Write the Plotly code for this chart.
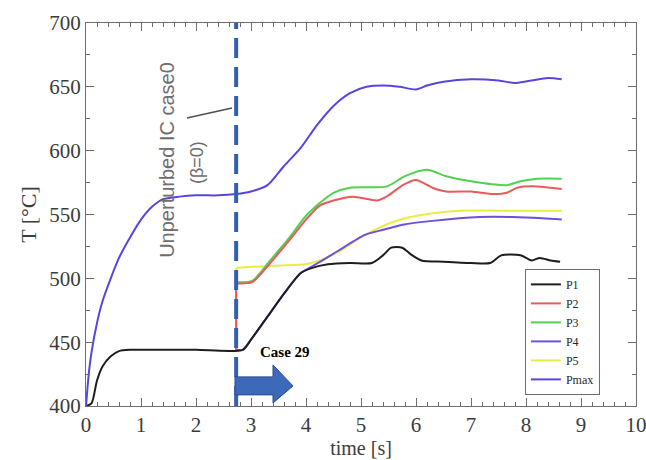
import plotly.graph_objects as go

# ---- data ----
t_pmax = [0, 0.05, 0.1, 0.2, 0.3, 0.45, 0.6, 0.8, 1.0, 1.2, 1.4, 1.7, 2.0, 2.4, 2.73,
          3.0, 3.3, 3.6, 3.9, 4.2, 4.5, 4.8, 5.1, 5.4, 5.7, 6.0, 6.2, 6.5, 7.0, 7.5,
          7.8, 8.1, 8.4, 8.65]
pmax = [400, 425, 442, 465, 482, 500, 516, 532, 546, 556, 562, 564, 565, 565, 566,
        568, 573, 588, 602, 620, 635, 645, 650, 651, 650, 648, 651, 654, 656, 655,
        653, 655, 657, 656]

t_p1 = [0, 0.1, 0.2, 0.3, 0.45, 0.6, 0.8, 1.2, 2.0, 2.85, 3.0, 3.3, 3.6, 3.9, 4.1,
        4.4, 4.8, 5.2, 5.4, 5.55, 5.75, 5.9, 6.1, 6.5, 7.0, 7.35, 7.55, 7.9, 8.1,
        8.25, 8.45, 8.62]
p1 = [400, 402, 420, 431, 439, 443, 444, 444, 444, 444, 452, 470, 488, 504, 508,
      511, 512, 512, 518, 524, 524, 519, 514, 513, 512, 512, 518, 518, 514, 516,
      514, 513]

t_p2 = [2.73, 2.73, 3.02, 3.35, 3.7, 4.0, 4.25, 4.5, 4.85, 5.3, 5.5, 5.76, 6.0, 6.3,
        6.55, 7.0, 7.4, 7.65, 7.84, 8.2, 8.65]
p2 = [444, 496, 497, 512, 530, 546, 557, 561, 564, 561, 565, 573, 577, 571, 568,
      568, 566, 567, 571, 572, 570]

t_p3 = [2.73, 2.73, 3.02, 3.35, 3.7, 4.0, 4.25, 4.5, 4.8, 5.47, 5.8, 6.2, 6.55, 7.0,
        7.65, 7.9, 8.2, 8.65]
p3 = [444, 497, 498, 514, 532, 549, 559, 567, 571, 572, 580, 585, 580, 576, 573,
      576, 578, 578]

t_p4 = [2.73, 2.73, 2.85, 3.0, 3.3, 3.6, 3.9, 4.1, 4.3, 4.6, 5.07, 5.4, 5.76, 6.3,
        7.16, 7.76, 8.3, 8.65]
p4 = [444, 444, 444, 452, 470, 488, 504, 509, 514, 522, 534, 538, 542, 545, 548,
      548, 547, 546]

t_p5 = [2.73, 2.73, 3.0, 3.5, 4.0, 4.3, 4.6, 5.0, 5.4, 5.8, 6.3, 6.8, 7.5, 8.0, 8.65]
p5 = [444, 508, 509, 510, 511, 515, 521, 532, 541, 547, 551, 553, 553, 553, 553]

t_case = 2.73  # start of perturbation (dashed line)

series = [
    ("P5", t_p5, p5, "rgb(235,235,70)", True),
    ("P4", t_p4, p4, "rgb(110,80,220)", True),
    ("P3", t_p3, p3, "rgb(80,210,80)", True),
    ("P2", t_p2, p2, "rgb(235,90,90)", True),
    ("P1", t_p1, p1, "rgb(30,30,30)", False),
    ("Pmax", t_pmax, pmax, "rgb(85,70,225)", False),
]
legend_rank = {"P1": 1, "P2": 2, "P3": 3, "P4": 4, "P5": 5, "Pmax": 6}

fig = go.Figure()
for name, tx, ty, col, has_jump in series:
    if has_jump:
        # vertical jump at the perturbation time (straight segment)
        fig.add_trace(go.Scatter(x=tx[:2], y=ty[:2], mode="lines", showlegend=False,
                                 hoverinfo="skip", line=dict(color=col, width=2)))
        tx, ty = tx[1:], ty[1:]
    fig.add_trace(go.Scatter(x=tx, y=ty, mode="lines", name=name,
                             line=dict(color=col, width=2, shape="spline",
                                       smoothing=0.7),
                             legendrank=legend_rank[name]))

# dashed vertical line
fig.add_shape(type="line", x0=t_case, x1=t_case, y0=400, y1=700,
              line=dict(color="rgb(50,95,175)", width=4, dash="20px,9px"))

# block arrow (Case 29)
arrow_x = [2.709, 3.40, 3.40, 3.764, 3.40, 3.40, 2.709]
arrow_y = [422.8, 422.8, 432.2, 415.7, 402.4, 408.7, 408.7]
path = "M " + " L ".join(f"{x},{y}" for x, y in zip(arrow_x, arrow_y)) + " Z"
fig.add_shape(type="path", path=path, fillcolor="rgb(60,105,185)",
              line=dict(color="rgb(40,75,150)", width=1))

# pointer line for the annotation
fig.add_shape(type="line", x0=1.836, y0=625.6, x1=2.655, y1=633.4,
              line=dict(color="rgb(80,80,80)", width=1.5))

fig.add_annotation(x=1.47, y=592.7, text="Unperturbed IC case0", textangle=-90,
                   showarrow=False, font=dict(family="Liberation Sans", size=20,
                                              color="rgb(110,110,110)"))
fig.add_annotation(x=2.02, y=590.4, text="(β=0)", textangle=-90,
                   showarrow=False, font=dict(family="Liberation Sans", size=18,
                                              color="rgb(110,110,110)"))
fig.add_annotation(x=3.12, y=442.4, text="<b>Case 29</b>", showarrow=False,
                   xanchor="left", font=dict(family="Liberation Serif", size=15,
                                             color="black"))

axis_common = dict(showline=True, linecolor="rgb(110,110,110)", linewidth=1,
                   mirror="ticks", ticks="inside", tickcolor="rgb(110,110,110)",
                   showgrid=False, zeroline=False, automargin=False,
                   ticklabeloverflow="allow",
                   tickfont=dict(family="Liberation Serif", size=21, color="rgb(60,60,60)"))

fig.update_xaxes(range=[0, 10], dtick=1, ticklen=8,
                 minor=dict(dtick=0.2, ticklen=4, ticks="inside",
                            tickcolor="rgb(110,110,110)"),
                 title=dict(text="time [s]", standoff=2,
                            font=dict(family="Liberation Serif", size=20,
                                      color="rgb(60,60,60)")),
                 **axis_common)
fig.update_yaxes(range=[400, 700], dtick=50, ticklen=8,
                 minor=dict(dtick=25, ticklen=4, ticks="inside",
                            tickcolor="rgb(110,110,110)"),
                 title=dict(text="T [°C]", standoff=6,
                            font=dict(family="Liberation Serif", size=22,
                                      color="rgb(60,60,60)")),
                 **axis_common)

fig.update_layout(
    width=646, height=460,
    margin=dict(l=86, r=10, t=23, b=54),
    paper_bgcolor="white", plot_bgcolor="white",
    showlegend=True,
    legend=dict(x=0.798, y=0.358, xanchor="left", yanchor="top",
                bordercolor="rgb(110,110,110)", borderwidth=1,
                bgcolor="white", tracegroupgap=0, itemwidth=30,
                font=dict(family="Liberation Serif", size=12, color="rgb(40,40,40)")),
)

fig.write_html("out.html")
